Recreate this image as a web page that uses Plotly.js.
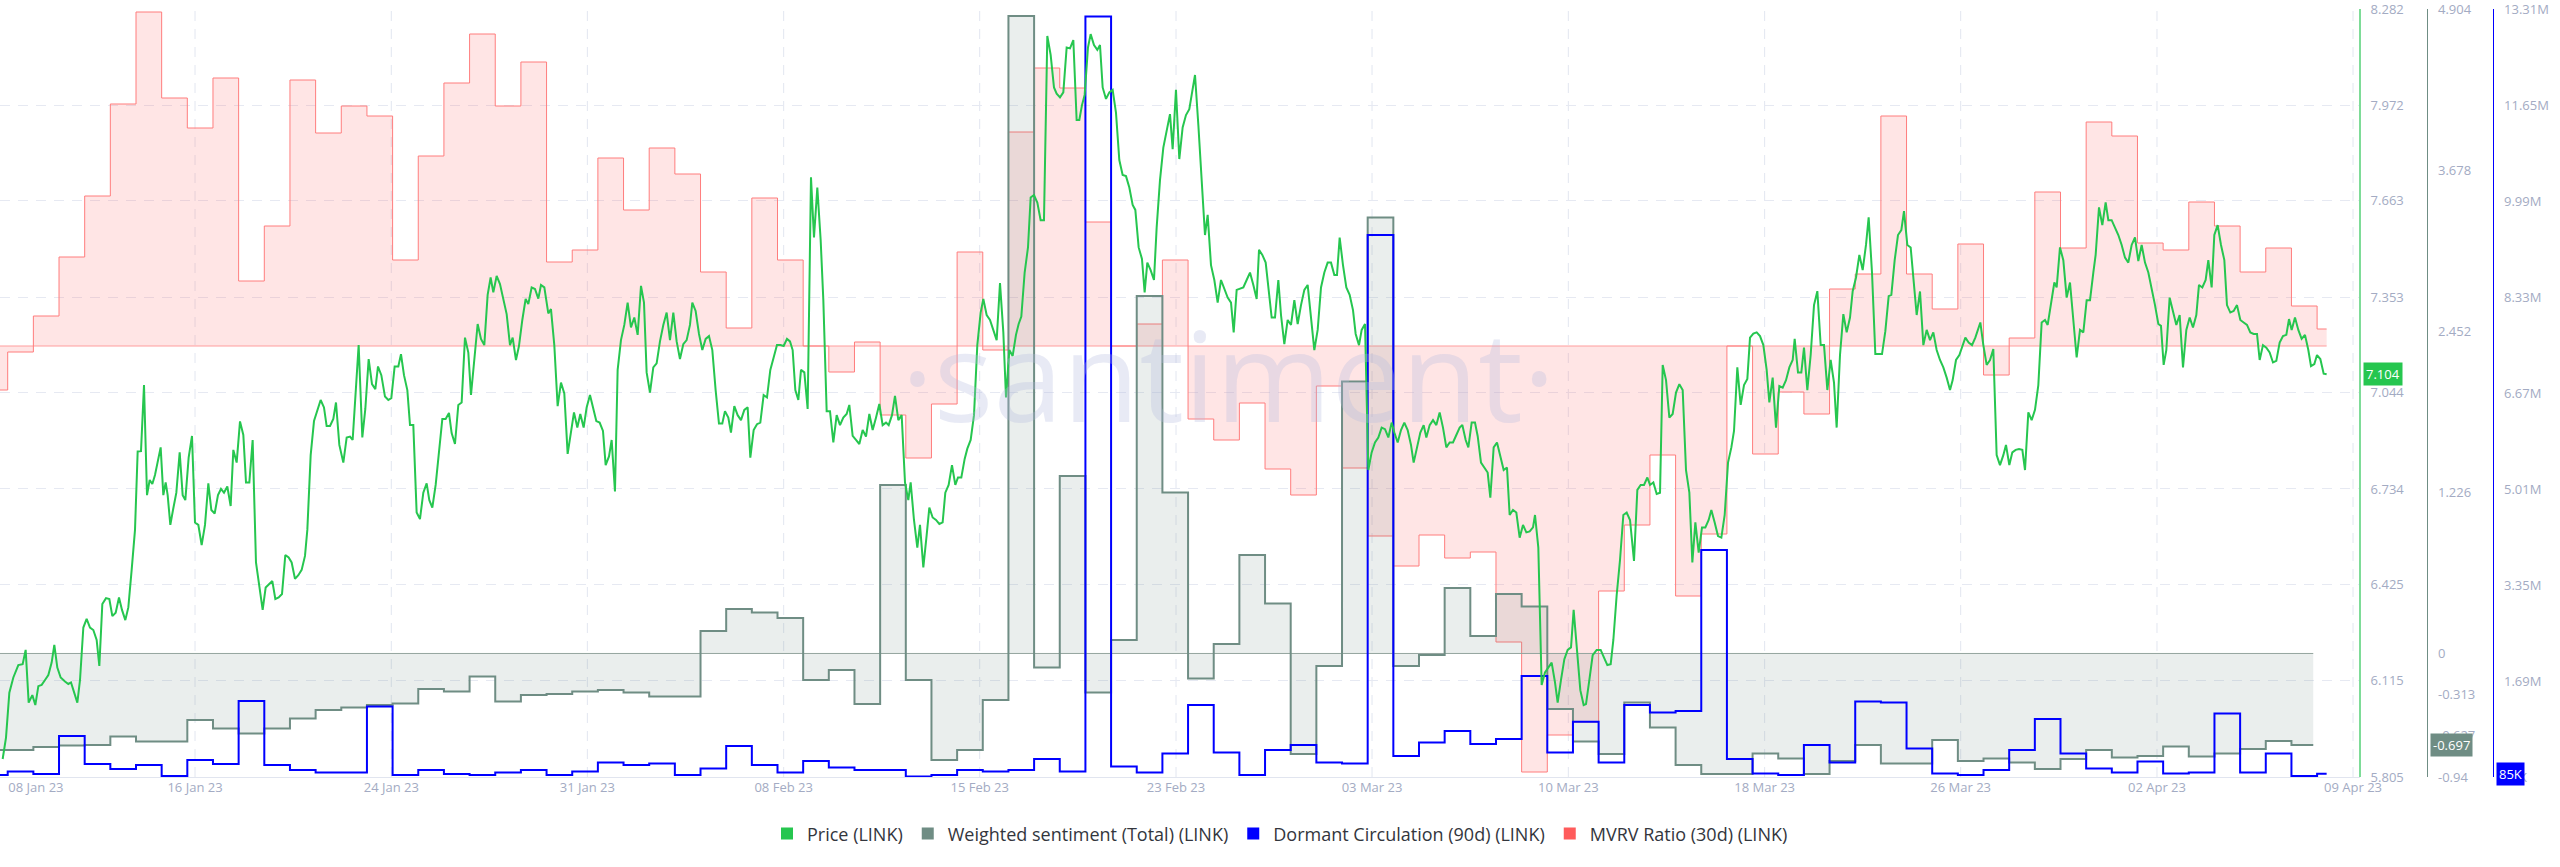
<!DOCTYPE html>
<html><head><meta charset="utf-8">
<script src="https://cdn.plot.ly/plotly-3.0.1.min.js"></script>
<style>html,body{margin:0;padding:0;background:#fff;}#chart{width:2560px;height:867px;}</style>
</head><body><div id="chart"></div>
<script>
// Day 0 = 2023-01-09 00:00 (UTC).
const startDateUTC = Date.UTC(2023, 0, 9);

// Price (LINK) — [day offset, USD]
const pricePoints = [
[-0.196,5.863],[-0.066,5.932],[0.064,6.077],[0.220,6.126],[0.414,6.166],[0.583,6.169],[0.700,6.215],[0.817,6.045],[0.960,6.069],[1.077,6.037],[1.194,6.098],[1.324,6.102],[1.454,6.118],[1.584,6.134],[1.713,6.174],[1.817,6.231],[1.934,6.158],[2.064,6.126],[2.233,6.113],[2.363,6.105],[2.467,6.110],[2.584,6.077],[2.714,6.045],[2.818,6.118],[2.948,6.287],[3.077,6.315],[3.207,6.287],[3.337,6.279],[3.467,6.247],[3.571,6.163],[3.688,6.363],[3.831,6.382],[3.961,6.379],[4.078,6.324],[4.208,6.335],[4.337,6.384],[4.454,6.344],[4.584,6.311],[4.701,6.352],[4.831,6.473],[4.961,6.602],[5.065,6.855],[5.195,6.856],[5.312,7.069],[5.429,6.714],[5.533,6.763],[5.636,6.750],[5.740,6.779],[5.844,6.827],[5.961,6.868],[6.065,6.714],[6.156,6.755],[6.234,6.714],[6.338,6.618],[6.442,6.666],[6.572,6.722],[6.702,6.852],[6.819,6.714],[6.922,6.698],[7.052,6.835],[7.182,6.905],[7.299,6.626],[7.429,6.618],[7.559,6.553],[7.689,6.618],[7.819,6.752],[7.936,6.666],[8.066,6.655],[8.195,6.714],[8.312,6.734],[8.429,6.722],[8.559,6.742],[8.689,6.679],[8.793,6.860],[8.923,6.819],[9.053,6.952],[9.183,6.908],[9.287,6.755],[9.417,6.755],[9.546,6.892],[9.676,6.497],[9.806,6.416],[9.936,6.344],[10.053,6.416],[10.183,6.427],[10.313,6.437],[10.430,6.379],[10.560,6.384],[10.690,6.395],[10.819,6.521],[10.949,6.513],[11.066,6.497],[11.196,6.444],[11.326,6.456],[11.456,6.473],[11.586,6.518],[11.677,6.602],[11.807,6.843],[11.937,6.953],[12.066,6.989],[12.196,7.021],[12.326,6.997],[12.430,6.937],[12.560,6.937],[12.690,6.960],[12.794,7.013],[12.924,6.876],[13.080,6.819],[13.210,6.900],[13.340,6.903],[13.443,6.892],[13.677,7.198],[13.820,6.900],[13.937,6.992],[14.067,7.153],[14.197,7.072],[14.327,7.056],[14.431,7.129],[14.561,7.101],[14.703,7.032],[14.833,7.021],[14.950,7.027],[15.080,7.129],
[15.223,7.129],[15.327,7.169],[15.444,7.101],[15.574,7.053],[15.678,6.940],[15.807,6.940],[15.937,6.658],[16.067,6.637],[16.197,6.722],[16.327,6.752],[16.431,6.698],[16.548,6.674],[16.678,6.747],[16.808,6.852],[16.938,6.960],[17.067,6.960],[17.197,6.979],[17.301,6.914],[17.431,6.879],[17.561,7.005],[17.691,7.013],[17.821,7.222],[17.951,7.174],[18.055,7.037],[18.185,7.150],[18.315,7.266],[18.444,7.218],[18.574,7.198],[18.704,7.360],[18.821,7.416],[18.925,7.368],[19.055,7.421],[19.185,7.395],[19.315,7.343],[19.445,7.298],[19.575,7.198],[19.679,7.222],[19.808,7.150],[19.925,7.195],[20.055,7.279],[20.185,7.347],[20.289,7.330],[20.419,7.384],[20.549,7.379],[20.679,7.348],[20.783,7.392],[20.913,7.384],[21.068,7.300],[21.172,7.314],[21.302,7.198],[21.432,7.001],[21.562,7.077],[21.692,7.042],[21.822,6.847],[21.952,6.916],[22.069,6.981],[22.199,6.932],[22.315,6.976],[22.445,6.932],[22.562,6.997],[22.692,7.037],[22.822,6.997],[22.939,6.953],[23.069,6.948],[23.199,6.921],[23.303,6.811],[23.433,6.839],[23.537,6.892],[23.666,6.726],[23.770,7.118],[23.900,7.214],[24.030,7.263],[24.160,7.335],[24.290,7.255],[24.420,7.287],[24.550,7.231],[24.680,7.389],[24.797,7.335],[24.900,7.110],[25.030,7.045],[25.160,7.126],[25.290,7.139],[25.420,7.210],[25.550,7.263],[25.680,7.303],[25.810,7.214],[25.940,7.303],[26.070,7.210],[26.199,7.153],[26.329,7.201],[26.459,7.214],[26.589,7.263],[26.680,7.335],[26.810,7.308],[26.940,7.234],[27.070,7.182],[27.200,7.218],[27.330,7.227],[27.460,7.182],[27.589,7.053],[27.719,6.945],[27.849,6.945],[27.953,6.985],[28.083,6.964],[28.187,6.916],[28.317,7.001],[28.447,6.972],[28.577,6.956],[28.707,6.989],[28.837,6.997],[28.941,6.835],[29.071,6.924],[29.201,6.943],[29.330,6.948],[29.460,7.037],[29.590,7.029],[29.720,7.118],[29.850,7.158],[29.980,7.198],[30.110,7.198],[30.240,7.195],[30.370,7.218],
[30.487,7.210],[30.591,7.182],[30.695,7.053],[30.812,7.021],[30.916,7.118],[31.046,7.110],[31.175,6.992],[31.305,7.739],[31.422,7.545],[31.552,7.706],[31.682,7.537],[31.786,7.343],[31.916,6.985],[32.046,6.985],[32.176,6.884],[32.306,6.972],[32.436,6.940],[32.565,6.964],[32.695,6.976],[32.799,7.005],[32.929,6.905],[33.059,6.892],[33.189,6.879],[33.319,6.924],[33.449,6.903],[33.579,6.976],[33.709,6.924],[33.838,6.964],[33.968,7.008],[34.098,6.940],[34.228,6.948],[34.332,6.940],[34.462,6.972],[34.579,7.034],[34.709,6.956],[34.839,6.972],[34.969,6.755],[35.098,6.698],[35.189,6.755],[35.319,6.634],[35.449,6.545],[35.553,6.618],[35.683,6.481],[35.813,6.585],[35.917,6.674],[36.047,6.642],[36.177,6.634],[36.307,6.621],[36.436,6.626],[36.540,6.722],[36.670,6.747],[36.800,6.811],[36.930,6.747],[37.034,6.771],[37.164,6.771],[37.294,6.831],[37.398,6.864],[37.528,6.892],[37.658,6.972],[37.787,7.198],[37.917,7.303],[38.021,7.347],[38.151,7.295],[38.281,7.279],[38.411,7.247],[38.541,7.214],[38.671,7.398],[38.801,7.239],[38.905,7.029],[39.034,7.182],[39.164,7.163],[39.294,7.231],[39.398,7.266],[39.502,7.290],[39.632,7.432],[39.762,7.513],[39.866,7.674],[39.996,7.682],[40.126,7.658],[40.255,7.601],[40.385,7.601],[40.515,8.195],[40.645,8.134],[40.775,8.029],[40.879,8.009],[41.009,7.997],[41.139,8.013],[41.269,8.158],[41.399,8.155],[41.529,8.182],[41.658,7.924],[41.762,7.924],[41.866,7.972],[41.970,8.005],[42.100,8.158],[42.204,8.201],[42.334,8.166],[42.464,8.150],[42.568,8.166],[42.672,8.029],[42.802,7.992],[42.931,8.013],[43.061,8.021],[43.191,7.948],[43.321,7.795],[43.451,7.747],[43.581,7.743],[43.711,7.706],[43.841,7.650],[43.945,7.634],[44.075,7.513],[44.204,7.476],[44.308,7.368],[44.412,7.464],[44.542,7.440],[44.672,7.408],[44.776,7.577],[44.906,7.730],[45.036,7.835],[45.166,7.892],[45.296,7.943],[45.400,7.830],[45.529,8.021],[45.659,7.798],[45.789,7.900],[45.919,7.940],[46.049,7.959],
[46.141,8.005],[46.271,8.069],[46.401,7.908],[46.531,7.714],[46.660,7.553],[46.764,7.618],[46.894,7.456],[47.024,7.408],[47.154,7.335],[47.284,7.408],[47.414,7.376],[47.544,7.351],[47.674,7.335],[47.778,7.239],[47.894,7.376],[48.024,7.379],[48.154,7.384],[48.284,7.408],[48.414,7.432],[48.544,7.392],[48.674,7.347],[48.765,7.505],[48.895,7.489],[49.025,7.464],[49.129,7.392],[49.258,7.287],[49.388,7.287],[49.518,7.408],[49.622,7.295],[49.752,7.201],[49.882,7.279],[50.012,7.263],[50.142,7.343],[50.272,7.266],[50.402,7.327],[50.532,7.376],[50.661,7.392],[50.791,7.279],[50.921,7.182],[51.051,7.247],[51.181,7.384],[51.311,7.432],[51.441,7.464],[51.571,7.464],[51.701,7.424],[51.804,7.424],[51.908,7.545],[52.038,7.456],[52.168,7.384],[52.298,7.360],[52.428,7.311],[52.532,7.234],[52.662,7.198],[52.766,7.247],[52.896,7.266],[53.025,6.795],[53.155,6.852],[53.285,6.884],[53.415,6.900],[53.545,6.932],[53.675,6.927],[53.805,6.900],[53.935,6.948],[54.039,6.916],[54.169,6.884],[54.299,6.924],[54.428,6.948],[54.558,6.924],[54.688,6.876],[54.792,6.819],[54.922,6.868],[55.052,6.916],[55.182,6.940],[55.286,6.900],[55.416,6.940],[55.546,6.956],[55.676,6.940],[55.805,6.981],[55.935,6.932],[56.065,6.868],[56.195,6.884],[56.325,6.884],[56.455,6.908],[56.585,6.932],[56.689,6.940],[56.819,6.892],[56.923,6.868],[57.053,6.948],[57.182,6.948],[57.286,6.905],[57.416,6.819],[57.546,6.803],[57.676,6.787],[57.780,6.706],[57.910,6.868],[58.040,6.884],[58.170,6.843],[58.300,6.795],[58.429,6.803],[58.533,6.650],[58.663,6.666],[58.793,6.658],[58.923,6.577],[59.053,6.618],[59.183,6.594],[59.313,6.597],[59.443,6.610],[59.521,6.650],[59.650,6.545],[59.780,6.102],[59.910,6.142],[60.040,6.158],[60.170,6.174],[60.300,6.110],[60.404,6.045],[60.534,6.118],[60.664,6.185],[60.794,6.215],[60.924,6.223],[61.027,6.344],[61.157,6.215],[61.287,6.085],[61.417,6.037],
[61.509,6.040],[61.639,6.118],[61.769,6.198],[61.925,6.215],[62.080,6.215],[62.210,6.190],[62.340,6.166],[62.470,6.169],[62.574,6.247],[62.704,6.392],[62.834,6.505],[62.964,6.650],[63.094,6.658],[63.224,6.634],[63.379,6.502],[63.509,6.731],[63.639,6.747],[63.769,6.747],[63.899,6.771],[64.003,6.747],[64.133,6.755],[64.263,6.718],[64.393,6.722],[64.497,7.134],[64.627,7.085],[64.756,6.964],[64.886,6.976],[65.016,7.045],[65.146,7.072],[65.276,7.053],[65.406,6.795],[65.536,6.722],[65.653,6.497],[65.770,6.626],[65.899,6.529],[66.029,6.610],[66.159,6.610],[66.289,6.634],[66.393,6.666],[66.523,6.626],[66.653,6.582],[66.783,6.577],[66.913,6.650],[67.043,6.819],[67.173,6.868],[67.276,6.921],[67.406,7.126],[67.536,7.005],[67.666,7.069],[67.796,7.089],[67.900,7.222],[68.030,7.235],[68.160,7.239],[68.290,7.227],[68.420,7.198],[68.549,7.118],[68.653,7.013],[68.783,7.093],[68.913,6.932],[69.043,7.066],[69.173,7.061],[69.303,7.085],[69.433,7.126],[69.563,7.150],[69.641,7.218],[69.770,7.110],[69.900,7.110],[70.004,7.190],[70.134,7.053],[70.264,7.166],[70.394,7.327],[70.524,7.372],[70.654,7.198],[70.784,7.198],[70.914,7.053],[71.043,7.150],[71.173,7.077],[71.277,6.932],[71.407,7.166],[71.537,7.298],[71.667,7.239],[71.797,7.287],[71.901,7.372],[72.031,7.416],[72.161,7.489],[72.291,7.440],[72.420,7.521],[72.524,7.610],[72.654,7.432],[72.784,7.169],[72.914,7.169],[73.044,7.169],[73.174,7.243],[73.304,7.356],[73.408,7.360],[73.538,7.472],[73.667,7.553],[73.797,7.569],[73.901,7.630],[74.031,7.521],[74.161,7.513],[74.291,7.376],[74.395,7.295],[74.525,7.371],[74.655,7.198],[74.785,7.247],[74.915,7.214],[75.044,7.239],[75.174,7.182],[75.304,7.150],[75.434,7.126],[75.564,7.093],[75.694,7.053],[75.798,7.085],[75.928,7.150],[76.058,7.166],[76.188,7.195],[76.292,7.222],[76.421,7.206],[76.551,7.198],[76.681,7.222],[76.811,7.255],
[76.876,7.271],[76.993,7.198],[77.123,7.134],[77.253,7.150],[77.382,7.185],[77.512,6.843],[77.642,6.811],[77.772,6.843],[77.876,6.876],[78.006,6.811],[78.123,6.852],[78.253,6.860],[78.383,6.863],[78.513,6.860],[78.617,6.795],[78.746,6.981],[78.876,6.956],[79.006,6.989],[79.136,7.069],[79.266,7.271],[79.396,7.279],[79.500,7.263],[79.630,7.335],[79.760,7.400],[79.851,7.384],[79.980,7.513],[80.110,7.472],[80.240,7.351],[80.370,7.400],[80.500,7.279],[80.630,7.158],[80.760,7.247],[80.890,7.239],[81.020,7.343],[81.150,7.343],[81.279,7.432],[81.370,7.489],[81.500,7.642],[81.630,7.585],[81.760,7.658],[81.864,7.601],[81.994,7.601],[82.124,7.577],[82.254,7.553],[82.384,7.521],[82.514,7.480],[82.643,7.464],[82.773,7.521],[82.903,7.545],[83.033,7.469],[83.163,7.521],[83.293,7.464],[83.423,7.432],[83.553,7.384],[83.683,7.327],[83.813,7.266],[83.916,7.260],[84.020,7.134],[84.124,7.182],[84.254,7.351],[84.384,7.303],[84.514,7.263],[84.644,7.295],[84.774,7.126],[84.904,7.247],[85.034,7.287],[85.163,7.255],[85.293,7.295],[85.397,7.392],[85.527,7.384],[85.657,7.408],[85.761,7.472],[85.891,7.384],[85.995,7.553],[86.125,7.585],[86.255,7.521],[86.385,7.472],[86.488,7.327],[86.618,7.303],[86.748,7.308],[86.878,7.327],[87.008,7.279],[87.138,7.271],[87.268,7.263],[87.398,7.239],[87.528,7.234],[87.658,7.234],[87.762,7.150],[87.891,7.198],[88.021,7.190],[88.151,7.174],[88.281,7.142],[88.411,7.147],[88.541,7.206],[88.671,7.227],[88.801,7.231],[88.905,7.282],[89.009,7.247],[89.138,7.287],[89.268,7.247],[89.398,7.218],[89.528,7.231],[89.658,7.182],[89.762,7.130],[89.892,7.137],[89.996,7.166],[90.126,7.153],[90.256,7.106],[90.372,7.104]
];

// Daily metrics, first value = day -1 (2023-01-08)
const firstDay = -1;
const mvrvDaily = [0.978,0.997,1.015,1.0445,1.075,1.121,1.167,1.124,1.109,1.134,1.0325,1.060,1.133,1.1065,1.120,1.115,1.043,1.095,1.1315,1.156,1.120,1.142,1.042,1.048,1.094,1.068,1.099,1.086,1.037,1.009,1.074,1.043,1.000,0.987,1.002,0.9655,0.944,0.971,1.047,0.998,1.107,1.139,1.129,1.062,1.000,1.011,1.043,0.9635,0.953,0.9715,0.9385,0.9255,0.980,0.939,0.905,0.890,0.9055,0.894,0.897,0.852,0.787,0.8055,0.812,0.8775,0.9105,0.9455,0.875,0.906,1.000,0.946,0.977,0.966,1.0285,1.036,1.115,1.036,1.0185,1.051,0.9855,1.004,1.077,1.049,1.112,1.105,1.0515,1.048,1.072,1.060,1.037,1.049,1.020,1.0085];
const sentimentDaily = [-0.735,-0.735,-0.712,-0.701,-0.697,-0.632,-0.670,-0.670,-0.506,-0.571,-0.609,-0.571,-0.495,-0.430,-0.411,-0.392,-0.381,-0.270,-0.289,-0.175,-0.366,-0.316,-0.308,-0.289,-0.278,-0.297,-0.327,-0.327,0.171,0.338,0.312,0.270,-0.202,-0.126,-0.385,1.282,-0.202,-0.811,-0.735,-0.354,4.851,-0.107,1.350,-0.297,0.102,2.720,1.225,-0.190,0.072,0.749,0.380,-0.765,-0.095,2.070,3.318,-0.095,-0.012,0.498,0.133,0.453,0.357,-0.422,-0.670,-0.765,-0.373,-0.563,-0.849,-0.917,-0.917,-0.761,-0.799,-0.917,-0.818,-0.697,-0.837,-0.837,-0.658,-0.818,-0.799,-0.830,-0.879,-0.803,-0.735,-0.792,-0.780,-0.708,-0.784,-0.761,-0.727,-0.666,-0.697];
const dormantDailyM = [0.064,0.125,0.081,0.739,0.255,0.168,0.237,0.047,0.324,0.255,1.344,0.237,0.151,0.107,0.107,1.249,0.064,0.151,0.081,0.064,0.107,0.151,0.064,0.125,0.281,0.237,0.263,0.064,0.177,0.566,0.237,0.107,0.306,0.194,0.151,0.151,0.039,0.064,0.151,0.125,0.151,0.341,0.125,13.180,0.211,0.107,0.436,1.275,0.454,0.064,0.497,0.583,0.281,0.263,9.402,0.393,0.626,0.825,0.600,0.687,1.776,0.454,0.985,0.281,1.275,1.145,1.171,3.955,0.341,0.090,0.064,0.583,0.281,1.335,1.318,0.523,0.090,0.064,0.151,0.497,1.033,0.436,0.177,0.107,0.298,0.090,0.107,1.128,0.107,0.436,0.047,0.085];
const metricsEndDay = 90.372;
const sentimentEndDay = 89.85;

// Axis ticks
const priceTickText = ['5.805','6.115','6.425','6.734','7.044','7.353','7.663','7.972','8.282'];
const sentimentTickText = ['-0.94','-0.627','-0.313','0','1.226','2.452','3.678','4.904'];
const dormantTickValsM = [0.03,1.69,3.35,5.01,6.67,8.33,9.99,11.65,13.31];
const dormantTickText = ['30K','1.69M','3.35M','5.01M','6.67M','8.33M','9.99M','11.65M','13.31M'];
const xTickDays = [1.10,7.30,14.95,22.59,30.24,37.88,45.53,53.17,60.82,68.47,76.11,83.76,91.40];
const xTickText = ['08 Jan 23','16 Jan 23','24 Jan 23','31 Jan 23','08 Feb 23','15 Feb 23','23 Feb 23','03 Mar 23','10 Mar 23','18 Mar 23','26 Mar 23','02 Apr 23','09 Apr 23'];
const seriesNames = ['Price (LINK)','Weighted sentiment (Total) (LINK)','Dormant Circulation (90d) (LINK)','MVRV Ratio (30d) (LINK)'];
const seriesColors = ['#26c64f','#6f8d84','#0000ff','#ff5b5b'];
const lastPrice = 7.104, lastSentiment = -0.697, lastDormantM = 0.085, lastDormantText = '85K';

function dayToDate(d){
  return new Date(startDateUTC + Math.round(d*864e5)).toISOString().slice(0,19).replace('T',' ');
}
function stepSeries(vals, endDay){
  const x = vals.map((v,i)=>dayToDate(firstDay+i));
  const y = vals.slice();
  x.push(dayToDate(endDay)); y.push(vals[vals.length-1]);
  return {x, y};
}
const mv = stepSeries(mvrvDaily, metricsEndDay);
const se = stepSeries(sentimentDaily, sentimentEndDay);
const dm = stepSeries(dormantDailyM, metricsEndDay);

const traces = [
  {x:[dayToDate(firstDay), dayToDate(metricsEndDay)], y:[1,1], yaxis:'y', mode:'lines',
   line:{color:'#ff9d9d', width:1}, showlegend:false, hoverinfo:'skip'},
  {x:mv.x, y:mv.y, yaxis:'y', mode:'lines', line:{color:'#ff7d7d', width:1, shape:'hv'},
   fill:'tonexty', fillcolor:'rgba(255,91,91,0.16)', showlegend:false, name:seriesNames[3]},
  {x:[dayToDate(firstDay), dayToDate(sentimentEndDay)], y:[0,0], yaxis:'y2', mode:'lines',
   line:{color:'#95a59f', width:1}, showlegend:false, hoverinfo:'skip'},
  {x:se.x, y:se.y, yaxis:'y2', mode:'lines', line:{color:'#6f8d84', width:2, shape:'hv'},
   fill:'tonexty', fillcolor:'rgba(111,141,132,0.15)', showlegend:false, name:seriesNames[1]},
  {x:dm.x, y:dm.y, yaxis:'y3', mode:'lines', line:{color:'#0000ff', width:2, shape:'hv'},
   showlegend:false, name:seriesNames[2]},
  {x:pricePoints.map(p=>dayToDate(p[0])), y:pricePoints.map(p=>p[1]), yaxis:'y4', mode:'lines',
   line:{color:'#26c64f', width:2}, showlegend:false, name:seriesNames[0]}
];
seriesNames.forEach((n,i)=>traces.push({x:[null], y:[null], yaxis:'y4', mode:'markers', name:n,
  marker:{symbol:'square', size:12, color:seriesColors[i]}, showlegend:true, hoverinfo:'skip'}));

const tickFont = {size:13, color:'#a3abc3'};
const gridShapes = xTickDays.slice(1).map(d=>({type:'line', xref:'x', yref:'paper', x0:dayToDate(d), x1:dayToDate(d),
  y0:0, y1:1, layer:'below', line:{color:'#e2e6f0', width:1, dash:'10px,8px'}}));

const sideAxis = (extra) => Object.assign({overlaying:'y', anchor:'free', side:'right', tickmode:'array',
  showgrid:false, zeroline:false, showline:true, ticks:'', ticklabelstandoff:7, ticklabeloverflow:'allow',
  tickfont:tickFont, fixedrange:true, automargin:false}, extra);

const layout = {
  width:2560, height:867, margin:{l:0, r:0, t:9, b:90},
  paper_bgcolor:'#ffffff', plot_bgcolor:'#ffffff',
  font:{family:'"Open Sans", sans-serif', color:'#3b3b3b'},
  showlegend:true,
  legend:{orientation:'h', x:0.5, xanchor:'center', y:-0.074, yanchor:'middle',
    font:{size:18, color:'#33363d'}, bgcolor:'rgba(0,0,0,0)', traceorder:'normal'},
  xaxis:{type:'date', domain:[0, 0.921875], range:[dayToDate(-0.30), dayToDate(91.672)],
    tickmode:'array', tickvals:xTickDays.map(dayToDate), ticktext:xTickText,
    showgrid:false, zeroline:false, showline:true, linecolor:'#e1e5ef', linewidth:1,
    ticks:'', ticklabelstandoff:-2, tickfont:tickFont, fixedrange:true, automargin:false},
  yaxis:{range:[0.7845, 1.1685], showgrid:false, zeroline:false, showticklabels:false,
    showline:false, ticks:'', fixedrange:true, automargin:false},
  yaxis2:sideAxis({position:0.948, range:[-0.94, 4.904],
    tickvals:sentimentTickText.map(Number), ticktext:sentimentTickText,
    linecolor:'#6f8d84', linewidth:1.5}),
  yaxis3:sideAxis({position:0.9738, range:[0.03, 13.31],
    tickvals:dormantTickValsM, ticktext:dormantTickText,
    linecolor:'#0000ff', linewidth:1.5}),
  yaxis4:sideAxis({position:0.921875, range:[5.805, 8.282],
    tickvals:priceTickText.map(Number), ticktext:priceTickText,
    showgrid:true, gridcolor:'#e6e9f2', gridwidth:1, griddash:'10px,8px',
    linecolor:'#7edc98', linewidth:2}),
  shapes:gridShapes,
  annotations:[
    {text:'·santiment·', xref:'paper', yref:'paper', x:1228/2560, y:0.525, showarrow:false,
     font:{size:125, color:'rgba(178,184,222,0.30)', family:'"Open Sans", sans-serif'}},
    {text:lastPrice.toFixed(3), xref:'paper', x:2363/2560, xanchor:'left', yref:'y4', y:lastPrice,
     showarrow:false, bgcolor:'#26c64f', borderpad:2, font:{size:13, color:'#ffffff'}},
    {text:lastSentiment.toFixed(3), xref:'paper', x:2430/2560, xanchor:'left', yref:'y2', y:lastSentiment,
     showarrow:false, bgcolor:'#6f8d84', borderpad:2, font:{size:13, color:'#ffffff'}},
    {text:lastDormantText, xref:'paper', x:2496/2560, xanchor:'left', yref:'y3', y:lastDormantM,
     showarrow:false, bgcolor:'#0000ff', borderpad:2, font:{size:13, color:'#ffffff'}}
  ]
};
Plotly.newPlot('chart', traces, layout, {displayModeBar:false, staticPlot:true});
</script></body></html>
